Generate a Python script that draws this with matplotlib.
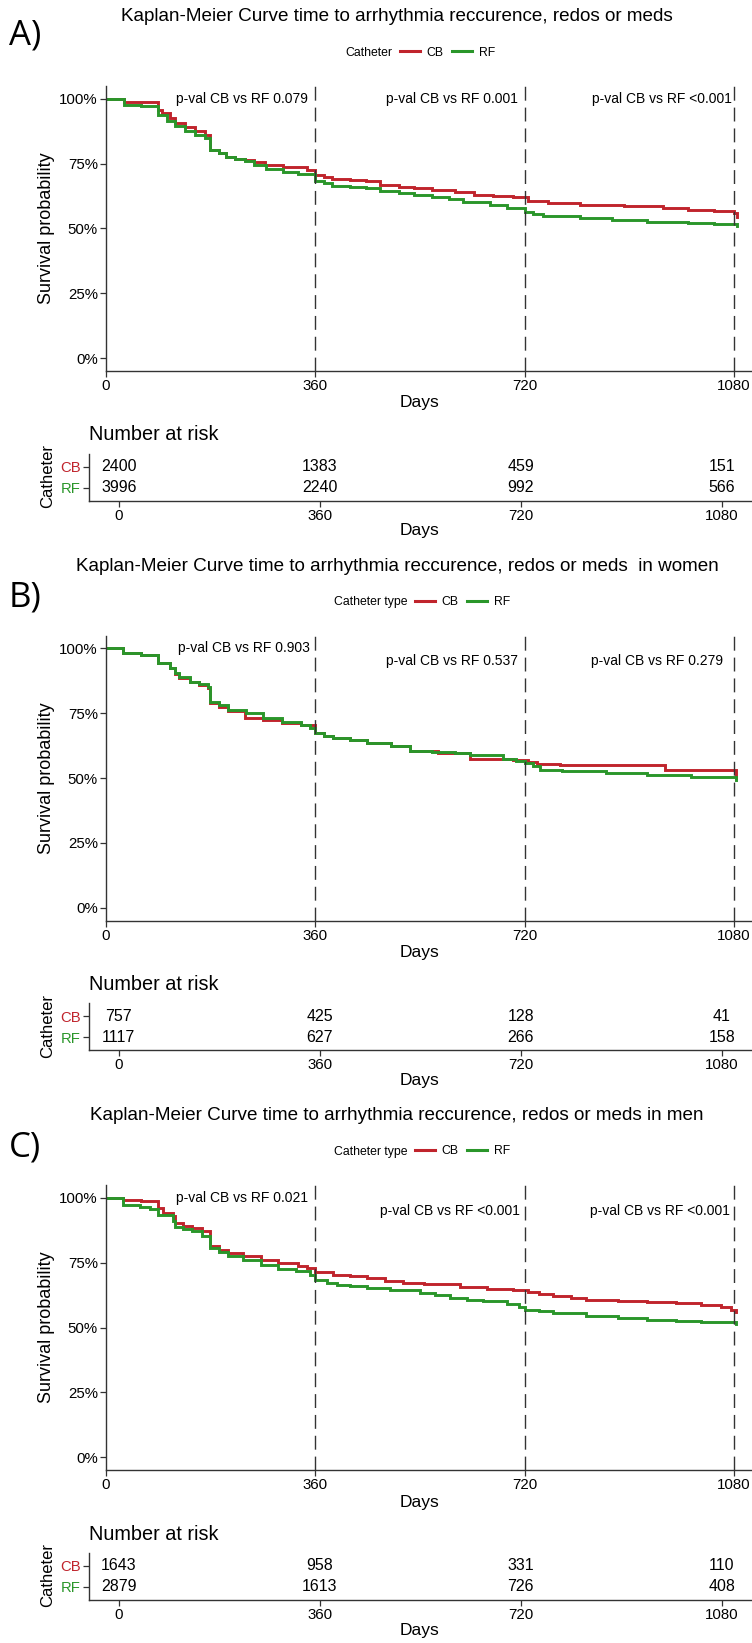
import matplotlib
matplotlib.use('Agg')
import matplotlib.pyplot as plt
from matplotlib.lines import Line2D

plt.rcParams['font.family'] = ['Liberation Sans', 'DejaVu Sans']

# ---- data ----
panel_labels = ['A)', 'B)', 'C)']
titles = ['Kaplan-Meier Curve time to arrhythmia reccurence, redos or meds',
          'Kaplan-Meier Curve time to arrhythmia reccurence, redos or meds  in women',
          'Kaplan-Meier Curve time to arrhythmia reccurence, redos or meds in men']
legend_titles = ['Catheter', 'Catheter type', 'Catheter type']
groups = ['CB', 'RF']
risk_days = [0, 360, 720, 1080]

# step curves: day of the step, survival from that day on
a_cb_t = [0, 31, 90, 97, 110, 119, 135, 153, 170, 179, 195, 207, 222, 239, 255, 273, 305, 345, 360, 375, 389, 420, 447, 471, 504, 530, 560, 600, 632, 665, 700, 725, 760, 815, 850, 890, 958, 1000, 1045, 1080, 1085]
a_cb_s = [1.0, 0.987, 0.959, 0.946, 0.925, 0.907, 0.890, 0.875, 0.862, 0.804, 0.790, 0.776, 0.770, 0.766, 0.755, 0.746, 0.737, 0.724, 0.705, 0.698, 0.691, 0.687, 0.682, 0.669, 0.660, 0.655, 0.648, 0.640, 0.630, 0.626, 0.622, 0.606, 0.598, 0.592, 0.589, 0.585, 0.579, 0.573, 0.566, 0.560, 0.544]
a_rf_t = [0, 31, 60, 90, 105, 119, 135, 153, 170, 179, 195, 207, 222, 239, 255, 275, 305, 330, 360, 375, 389, 420, 447, 471, 504, 530, 560, 590, 614, 660, 690, 720, 735, 752, 815, 870, 930, 1000, 1045, 1085]
a_rf_s = [1.0, 0.978, 0.972, 0.939, 0.915, 0.894, 0.878, 0.862, 0.849, 0.804, 0.790, 0.776, 0.770, 0.762, 0.745, 0.730, 0.717, 0.710, 0.685, 0.675, 0.665, 0.661, 0.656, 0.643, 0.637, 0.630, 0.622, 0.612, 0.601, 0.590, 0.579, 0.565, 0.556, 0.550, 0.541, 0.534, 0.527, 0.521, 0.518, 0.511]

b_cb_t = [0, 30, 60, 90, 110, 119, 125, 145, 160, 176, 179, 195, 210, 239, 270, 302, 335, 360, 375, 391, 420, 448, 490, 523, 570, 626, 700, 725, 741, 781, 961, 1083]
b_cb_s = [1.0, 0.983, 0.976, 0.945, 0.925, 0.900, 0.887, 0.870, 0.860, 0.848, 0.790, 0.775, 0.758, 0.732, 0.722, 0.713, 0.705, 0.673, 0.663, 0.655, 0.645, 0.635, 0.622, 0.606, 0.598, 0.575, 0.568, 0.560, 0.555, 0.549, 0.532, 0.500]
b_rf_t = [0, 30, 60, 90, 110, 119, 125, 145, 160, 176, 179, 195, 210, 240, 270, 302, 335, 350, 360, 375, 391, 420, 448, 490, 523, 560, 600, 626, 683, 705, 720, 735, 746, 784, 860, 930, 1005, 1083]
b_rf_s = [1.0, 0.983, 0.976, 0.945, 0.925, 0.905, 0.890, 0.872, 0.862, 0.850, 0.795, 0.780, 0.764, 0.752, 0.732, 0.715, 0.705, 0.693, 0.673, 0.663, 0.655, 0.646, 0.636, 0.623, 0.606, 0.600, 0.595, 0.588, 0.575, 0.565, 0.558, 0.545, 0.532, 0.526, 0.518, 0.510, 0.503, 0.491]

c_cb_t = [0, 30, 60, 90, 98, 115, 119, 132, 148, 165, 179, 195, 209, 235, 266, 295, 330, 345, 360, 391, 420, 448, 480, 511, 546, 609, 655, 700, 725, 745, 768, 800, 826, 880, 930, 980, 1023, 1057, 1075, 1083]
c_cb_s = [1.0, 0.993, 0.987, 0.961, 0.942, 0.929, 0.903, 0.893, 0.884, 0.872, 0.813, 0.800, 0.788, 0.775, 0.759, 0.749, 0.738, 0.730, 0.714, 0.704, 0.697, 0.691, 0.681, 0.672, 0.668, 0.656, 0.649, 0.646, 0.636, 0.628, 0.620, 0.614, 0.605, 0.601, 0.597, 0.593, 0.588, 0.579, 0.569, 0.560]
c_rf_t = [0, 30, 58, 75, 90, 115, 119, 132, 148, 165, 179, 195, 209, 235, 266, 295, 327, 350, 360, 380, 397, 420, 448, 488, 540, 565, 592, 620, 649, 690, 710, 720, 745, 768, 826, 880, 930, 980, 1023, 1083]
c_rf_s = [1.0, 0.974, 0.965, 0.957, 0.935, 0.910, 0.888, 0.880, 0.871, 0.852, 0.807, 0.790, 0.775, 0.762, 0.742, 0.726, 0.717, 0.704, 0.682, 0.672, 0.665, 0.659, 0.653, 0.646, 0.633, 0.624, 0.614, 0.607, 0.601, 0.590, 0.581, 0.569, 0.562, 0.556, 0.543, 0.536, 0.530, 0.525, 0.521, 0.515]

curves = [((a_cb_t, a_cb_s), (a_rf_t, a_rf_s)),
          ((b_cb_t, b_cb_s), (b_rf_t, b_rf_s)),
          ((c_cb_t, c_cb_s), (c_rf_t, c_rf_s))]

p_texts = [['p-val CB vs RF 0.079', 'p-val CB vs RF 0.001', 'p-val CB vs RF <0.001'],
           ['p-val CB vs RF 0.903', 'p-val CB vs RF 0.537', 'p-val CB vs RF 0.279'],
           ['p-val CB vs RF 0.021', 'p-val CB vs RF <0.001', 'p-val CB vs RF <0.001']]

risk_cb = [[2400, 1383, 459, 151], [757, 425, 128, 41], [1643, 958, 331, 110]]
risk_rf = [[3996, 2240, 992, 566], [1117, 627, 266, 158], [2879, 1613, 726, 408]]

# ---- layout (pixels) ----
W, H = 752, 1643
colors = ['#C0242C', '#2A962A']
axis_col = '#333333'
p_pos = [[(347, 1.0), (708, 1.0), (1076, 1.0)],
         [(351, 1.0), (709, 0.951), (1061, 0.951)],
         [(348, 1.0), (712, 0.949), (1073, 0.949)]]
label_y = [36, 598, 1147]

fig = plt.figure(figsize=(W / 100, H / 100), dpi=100)


def rect(l, t, r, b):
    return [l / W, 1 - b / H, (r - l) / W, (b - t) / H]


def ftext(x, y, s, **kw):
    fig.text(x / W, 1 - y / H, s, **kw)


def style(ax):
    for s in ['top', 'right']:
        ax.spines[s].set_visible(False)
    for s in ['left', 'bottom']:
        ax.spines[s].set_color(axis_col)
        ax.spines[s].set_linewidth(1.0)
    ax.tick_params(direction='out', length=4.3, width=0.9, color=axis_col,
                   labelsize=10.8, pad=1.5, labelcolor='black')


for i in range(3):
    o = i * 549.5

    ftext(25, label_y[i], panel_labels[i], fontsize=25, family=['Open Sans', 'DejaVu Sans'],
          ha='center', va='center')
    ftext(397, 16.7 + o, titles[i], fontsize=13.6, ha='center', va='center')

    # legend
    ftext(392 if i == 0 else 407, 52.5 + o, legend_titles[i], fontsize=8.8, ha='right', va='center')
    handles = [Line2D([], [], color=c, lw=2.2) for c in colors]
    fig.legend(handles, groups, loc='center left', frameon=False, ncol=2,
               bbox_to_anchor=((400 if i == 0 else 415) / W, 1 - (52.5 + o) / H),
               fontsize=8.8, handlelength=1.6, handletextpad=0.55, columnspacing=0.75,
               borderpad=0, borderaxespad=0)

    # survival plot
    ax = fig.add_axes(rect(106, 86 + o, 751, 371 + o))
    for (t, s), c in zip(curves[i], colors):
        ax.plot(t, s, drawstyle='steps-post', color=c, lw=2.1, solid_joinstyle='miter')
    for d in [360, 720, 1080]:
        ax.axvline(d, color='#333333', lw=1.0, linestyle=(0, (10, 5)))
    for (d, yv), s in zip(p_pos[i], p_texts[i]):
        ax.text(d, yv, s, fontsize=10, ha='right', va='center')
    ax.set_xlim(0, 1109)
    ax.set_ylim(-0.05, 1.05)
    ax.set_xticks(risk_days)
    ax.set_yticks([0, 0.25, 0.5, 0.75, 1.0])
    ax.set_yticklabels(['0%', '25%', '50%', '75%', '100%'])
    style(ax)
    ftext(46.7, 228.5 + o, 'Survival probability', fontsize=13, rotation=90,
          ha='center', va='center')
    ftext(420, 403 + o, 'Days', fontsize=12.5, ha='center', va='center')

    # risk table
    tx = fig.add_axes(rect(88.7, 453.8 + o, 752, 500.7 + o))
    for j, d in enumerate(risk_days):
        tx.text(d, 1, str(risk_cb[i][j]), fontsize=11.5, ha='center', va='center')
        tx.text(d, 2, str(risk_rf[i][j]), fontsize=11.5, ha='center', va='center')
    tx.set_xlim(-54, 1134)
    tx.set_ylim(2.6, 0.4)
    tx.set_xticks(risk_days)
    tx.set_yticks([1, 2])
    tx.set_yticklabels(groups)
    style(tx)
    for lab, c in zip(tx.get_yticklabels(), colors):
        lab.set_color(c)
        lab.set_fontsize(10.7)
    ftext(88.7, 435 + o, 'Number at risk', fontsize=14.3, ha='left', va='center')
    ftext(48, 476 + o, 'Catheter', fontsize=12, rotation=90, ha='center', va='center')
    ftext(420, 531 + o, 'Days', fontsize=12.5, ha='center', va='center')

fig.savefig('out.png', dpi=100)
